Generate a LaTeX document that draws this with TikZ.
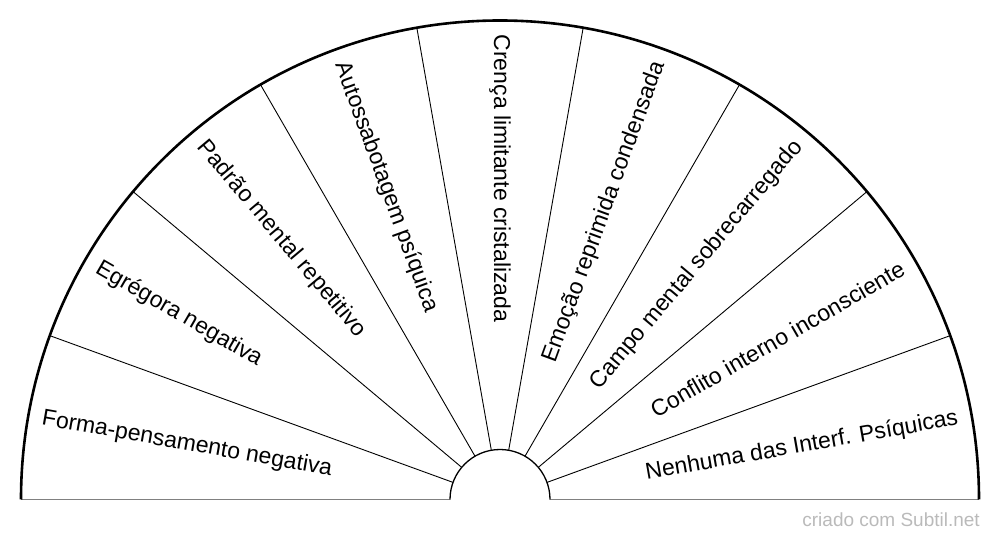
\documentclass[tikz,border=0pt]{standalone}
\usepackage{fontspec}
\setmainfont{Liberation Sans}
\begin{document}
\begin{tikzpicture}[x=1pt,y=1pt,
  lbl/.style={inner sep=0pt,font=\fontsize{23}{27}\selectfont,text=black},
  lblR/.style={lbl,anchor=east},
  lblL/.style={lbl,anchor=west},
  divider/.style={line width=0.9pt,black},
  base/.style={line width=1.6pt,gray},
  rim/.style={line width=2.6pt,black},
  hub/.style={line width=1.3pt,black},
  mark/.style={}]
\useasboundingbox (0,0) rectangle (1000,540);
\coordinate (C) at (500,40.5);
% baseline
\draw[base] ([shift={(180:479pt)}]C) -- ([shift={(180:50pt)}]C);
\draw[base] ([shift={(0:50pt)}]C) -- ([shift={(0:479pt)}]C);
% dividers
\foreach \a in {20,40,...,160}{
  \draw[divider] ([shift={(\a:50pt)}]C) -- ([shift={(\a:479pt)}]C);
}
% arcs
\draw[rim] ([shift={(0:479pt)}]C) arc[start angle=0,end angle=180,radius=479pt];
\draw[hub] ([shift={(0:50pt)}]C) arc[start angle=0,end angle=180,radius=50pt];
% labels
\node[lblR,rotate=10] (s1) at ([shift={(10:465pt)}]C) {Nenhuma das Interf. Psíquicas};
\node[lblR,rotate=30] (s2) at ([shift={(30:465pt)}]C) {Conflito interno inconsciente};
\node[lblR,rotate=50] (s3) at ([shift={(50:465pt)}]C) {Campo mental sobrecarregado};
\node[lblR,rotate=70] (s4) at ([shift={(70:465pt)}]C) {Emoção reprimida condensada};
\node[lblL,rotate=-90] (s5) at ([shift={(90:465pt)}]C) {Crença limitante cristalizada};
\node[lblL,rotate=-70] (s6) at ([shift={(110:465pt)}]C) {Autossabotagem psíquica};
\node[lblL,rotate=-50] (s7) at ([shift={(130:465pt)}]C) {Padrão mental repetitivo};
\node[lblL,rotate=-30] (s8) at ([shift={(150:465pt)}]C) {Egrégora negativa};
\node[lblL,rotate=-10] (s9) at ([shift={(170:465pt)}]C) {Forma-pensamento negativa};
% watermark
\node[anchor=base east,inner sep=0pt,font=\fontsize{19}{22}\selectfont,text=black!27] (wm) at (980,13.3) {criado com Subtil.net};
\end{tikzpicture}
\end{document}
